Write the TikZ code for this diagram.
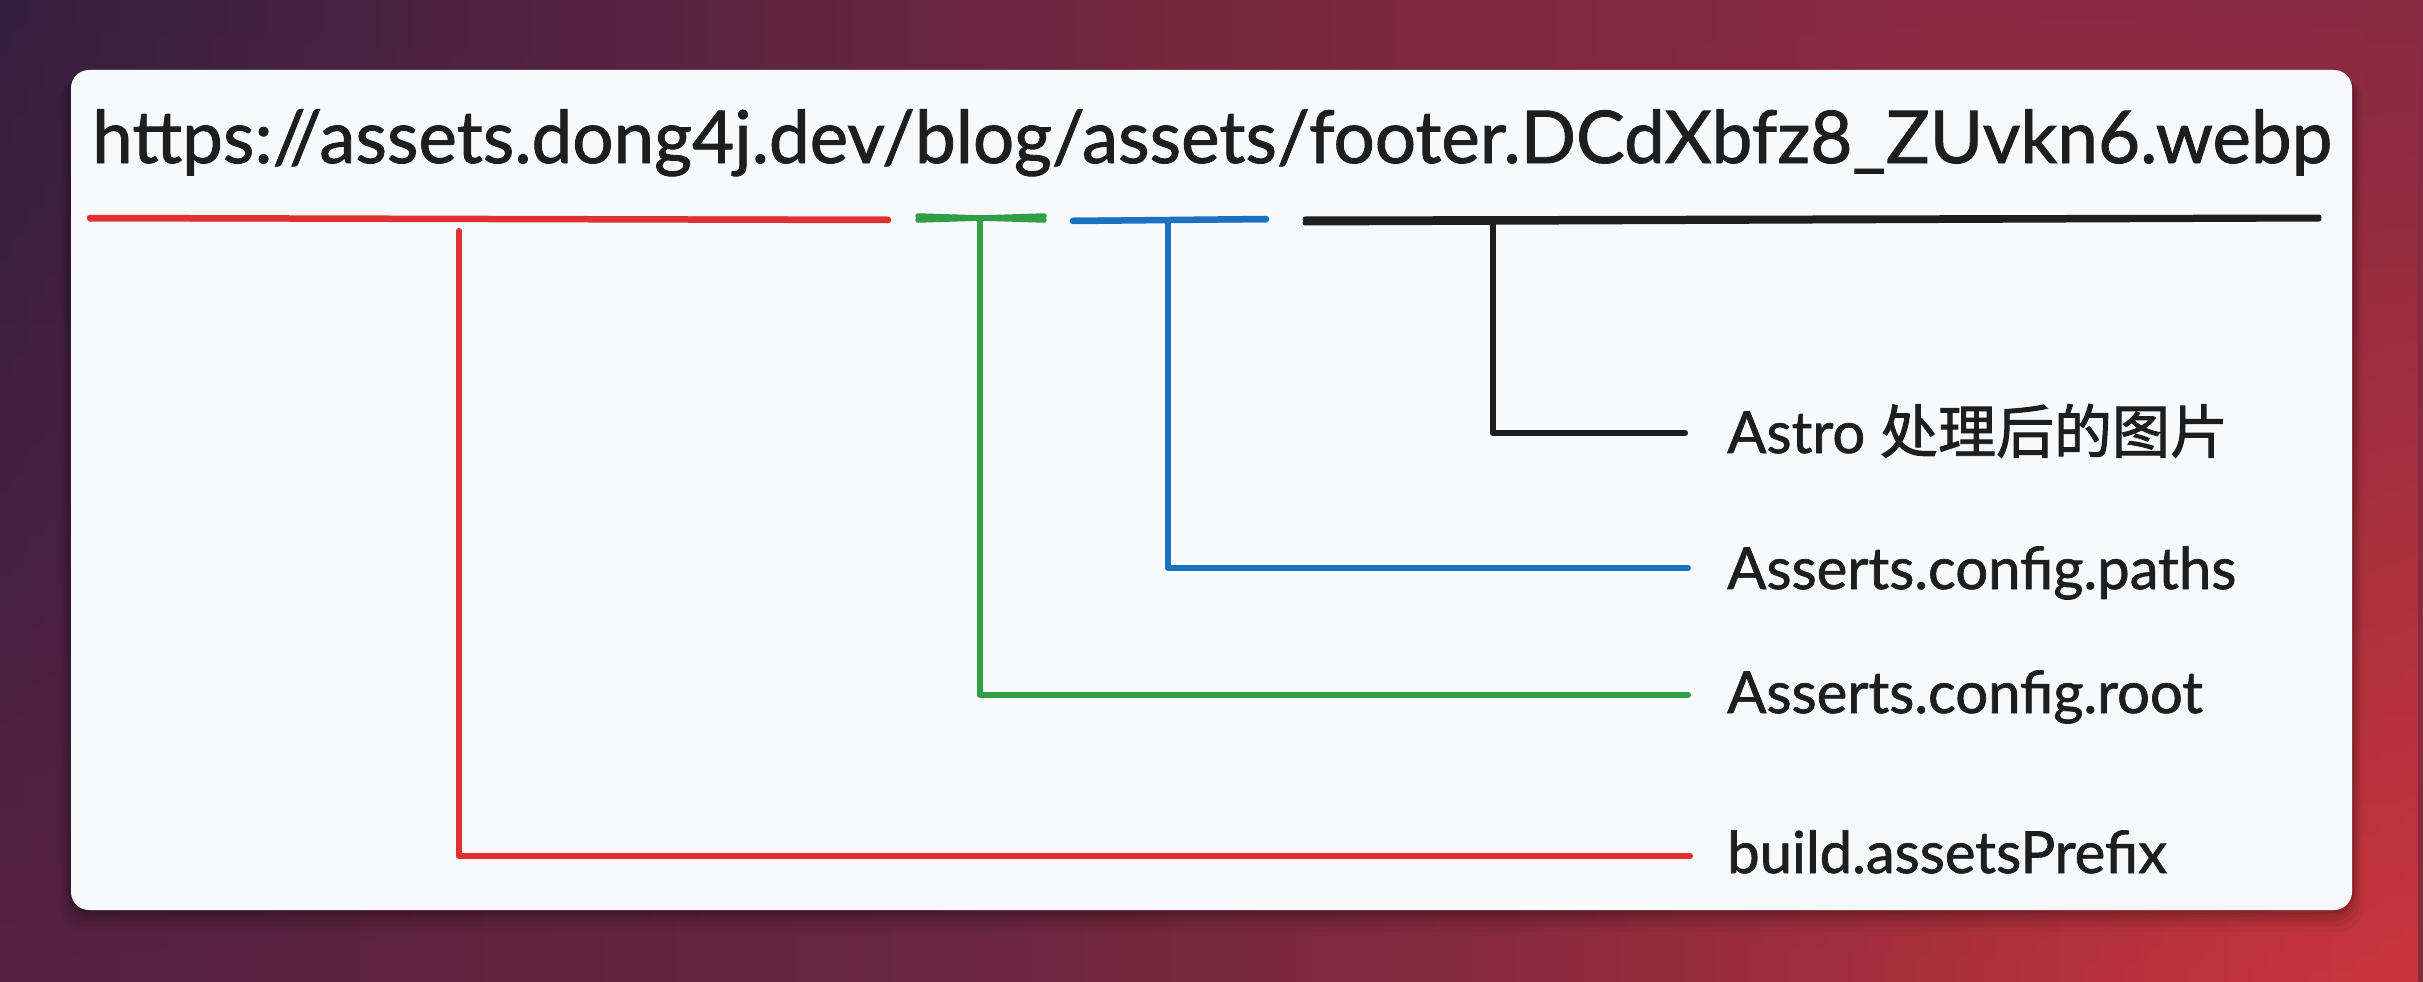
\documentclass[tikz,border=0pt]{standalone}
\usepackage{fontspec}
\setmainfont[FakeBold=1.2,AutoFakeBold=0]{Lato}
\newfontfamily\cjk[FakeBold=1.6]{Noto Sans CJK SC}
\usetikzlibrary{fadings}
\definecolor{ered}{HTML}{E03131}
\definecolor{egreen}{HTML}{2F9E44}
\definecolor{eblue}{HTML}{1971C2}
\definecolor{eblack}{HTML}{1E1E1E}
\definecolor{cardbg}{HTML}{F8F9FA}
\pgfdeclarehorizontalshading{topgrad}{100bp}{
  color(0bp)=(rgb,255:red,39;green,30;blue,62);
  color(25bp)=(rgb,255:red,52;green,31;blue,64);
  color(50bp)=(rgb,255:red,118;green,39;blue,64);
  color(65bp)=(rgb,255:red,136;green,42;blue,66);
  color(100bp)=(rgb,255:red,126;green,42;blue,64)}
\pgfdeclarehorizontalshading{botgrad}{100bp}{
  color(0bp)=(rgb,255:red,70;green,33;blue,63);
  color(25bp)=(rgb,255:red,86;green,34;blue,64);
  color(45bp)=(rgb,255:red,106;green,39;blue,64);
  color(56bp)=(rgb,255:red,136;green,43;blue,61);
  color(72bp)=(rgb,255:red,196;green,52;blue,60);
  color(84bp)=(rgb,255:red,220;green,57;blue,59);
  color(100bp)=(rgb,255:red,214;green,56;blue,58)}
\tikzset{
  urltext/.style={anchor=base west,inner sep=0,text=eblack,font=\fontsize{72.8}{80}\selectfont},
  labtext/.style={anchor=base west,inner sep=0,text=eblack,font=\fontsize{58}{64}\selectfont},
  topline/.style={line width=6.5pt,line cap=round},
  conn/.style={line width=6pt,line cap=round,line join=round}
}
\begin{document}
\begin{tikzpicture}[x=1pt,y=-1pt]
\useasboundingbox (0,0) rectangle (2423,982);
% background
\shade[shading=topgrad] (0,0) rectangle (2423,982);
\shade[shading=botgrad,path fading=north] (0,0) rectangle (2423,982);
% card shadow
\foreach \o/\a in {22/0.04,16/0.05,11/0.06,7/0.07,4/0.08}{
  \fill[black,opacity=\a,rounded corners=24pt] (71-\o*0.5,70+\o*0.3) rectangle (2352+\o*0.5,910+\o);
}
\fill[cardbg,rounded corners=18pt] (71,70) rectangle (2352,910);
% url
\node[urltext] (url) at (92,163) {https://assets.dong4j.dev/blog/assets/footer.DCdXbfz8\_ZUvkn6.webp};
% labels
\node[labtext] (limg) at (1727,453) {Astro {\cjk 处理后的图片}};
\node[labtext] (lpath) at (1727,589) {Asserts.config.paths};
\node[labtext] (lroot) at (1727,713) {Asserts.config.root};
\node[labtext] (lpre) at (1727,873) {build.assetsPrefix};
% underline coordinates
\coordinate (rA) at (90,218); \coordinate (rB) at (888,220);
\coordinate (gA) at (918,218); \coordinate (gB) at (1044,218);
\coordinate (bA) at (1073,221); \coordinate (bB) at (1266,219);
\coordinate (kA) at (1305,221); \coordinate (kB) at (2319,218);
\coordinate (rV) at (459,231); \coordinate (gV) at (980,219);
\coordinate (bV) at (1168,220); \coordinate (kV) at (1493,220);
\coordinate (rE) at (1690,856); \coordinate (gE) at (1688,695);
\coordinate (bE) at (1688,568); \coordinate (kE) at (1685,433);
% underlines
\draw[topline,ered] (rA) -- (rB);
\draw[topline,ered,line width=4pt] ([yshift=-1.5]rA) -- ([yshift=1.5]rB);
\draw[topline,egreen,line width=5.5pt] ([yshift=-2]gA) -- ([yshift=2]gB);
\draw[topline,egreen,line width=5.5pt] ([yshift=2]gA) -- ([yshift=-2]gB);
\draw[topline,eblue] (bA) -- (bB);
\draw[topline,eblue,line width=4pt] ([yshift=1.5]bA) -- ([yshift=-1.5]bB);
\draw[topline,eblack,line width=5pt] ([yshift=-2]kA) -- ([yshift=-1]kB);
\draw[topline,eblack,line width=5pt] ([yshift=2]kA) -- ([yshift=1]kB);
% connectors
\draw[conn,ered] (rV) -- (rV |- rE) -- (rE);
\draw[conn,egreen] (gV) -- (gV |- gE) -- (gE);
\draw[conn,eblue] (bV) -- (bV |- bE) -- (bE);
\draw[conn,eblack] (kV) -- (kV |- kE) -- (kE);
\end{tikzpicture}
\end{document}
